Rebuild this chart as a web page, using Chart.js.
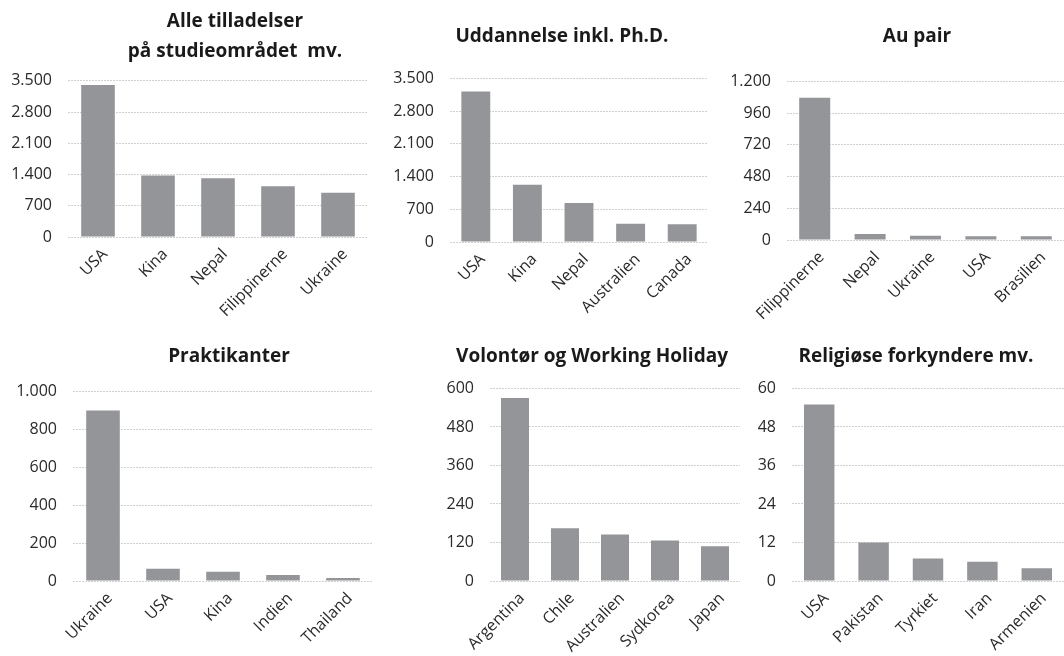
<!DOCTYPE html>
<html>
<head>
<meta charset="utf-8">
<script src="https://cdn.jsdelivr.net/npm/chart.js@4"></script>
<style>
  html, body { margin: 0; padding: 0; background: #fff; overflow: hidden; }
  body { width: 1064px; height: 656px; position: relative; }
  .box { position: absolute; }
</style>
</head>
<body>
<div class="box" id="b1"><canvas id="c1"></canvas></div>
<div class="box" id="b2"><canvas id="c2"></canvas></div>
<div class="box" id="b3"><canvas id="c3"></canvas></div>
<div class="box" id="b4"><canvas id="c4"></canvas></div>
<div class="box" id="b5"><canvas id="c5"></canvas></div>
<div class="box" id="b6"><canvas id="c6"></canvas></div>
<script>
// data
const studieLabels = ['USA', 'Kina', 'Nepal', 'Filippinerne', 'Ukraine'];
const studieValues = [3410, 1380, 1315, 1140, 990];

const uddannelseLabels = ['USA', 'Kina', 'Nepal', 'Australien', 'Canada'];
const uddannelseValues = [3220, 1225, 835, 390, 378];

const auPairLabels = ['Filippinerne', 'Nepal', 'Ukraine', 'USA', 'Brasilien'];
const auPairValues = [1076, 46, 33, 28, 28];

const praktikantLabels = ['Ukraine', 'USA', 'Kina', 'Indien', 'Thailand'];
const praktikantValues = [900, 65, 49, 32, 16];

const volontorLabels = ['Argentina', 'Chile', 'Australien', 'Sydkorea', 'Japan'];
const volontorValues = [570, 164, 145, 126, 108];

const religiosLabels = ['USA', 'Pakistan', 'Tyrkiet', 'Iran', 'Armenien'];
const religiosValues = [55, 12, 7, 6, 4];

const FONT = '"Open Sans", Roboto, sans-serif';
const BAR = '#939598';

function fmt(v) {
  return String(v).replace(/\B(?=(\d{3})+(?!\d))/g, '.');
}

function makeChart(id, o) {
  const box = document.getElementById('b' + id);
  box.style.left = o.left + 'px';
  box.style.top = o.top + 'px';
  box.style.width = o.width + 'px';
  box.style.height = o.height + 'px';

  return new Chart(document.getElementById('c' + id), {
    type: 'bar',
    data: {
      labels: o.labels,
      datasets: [{
        data: o.values,
        backgroundColor: BAR,
        barPercentage: 0.56,
        categoryPercentage: 1
      }]
    },
    options: {
      responsive: true,
      maintainAspectRatio: false,
      animation: false,
      layout: { padding: 0 },
      plugins: {
        legend: { display: false },
        tooltip: { enabled: false },
        title: {
          display: true,
          text: o.title,
          color: '#1a1a1a',
          font: { family: FONT, size: 19, weight: 'bold', lineHeight: 1.55 },
          padding: { top: o.titleTop, bottom: o.titleBottom }
        }
      },
      scales: {
        x: {
          grid: { display: false, drawTicks: false },
          border: { display: false },
          ticks: {
            color: '#2a2a2a',
            font: { family: FONT, size: 16 },
            minRotation: 45,
            maxRotation: 45,
            padding: 8,
            labelOffset: 7,
            autoSkip: false
          },
          afterFit: s => { s.height = o.xHeight; }
        },
        y: {
          min: 0,
          max: o.max,
          grid: { color: '#d0d0d0', drawTicks: false, lineWidth: 1 },
          border: { display: false, dash: [2, 1] },
          ticks: {
            stepSize: o.step,
            color: '#2a2a2a',
            font: { family: FONT, size: 16 },
            padding: 16,
            callback: v => fmt(v)
          },
          afterFit: s => { s.width = o.yWidth; }
        },
        // empty right axis, only keeps space so the title can sit off-centre of the plot
        pad: {
          type: 'linear',
          position: 'right',
          grid: { display: false, drawTicks: false },
          border: { display: false },
          ticks: { display: false },
          afterFit: s => { s.width = o.padRight; }
        }
      }
    }
  });
}

makeChart(1, {
  left: 0, top: 0, width: 470, height: 317, padRight: 102, yWidth: 68, xHeight: 80,
  title: ['Alle tilladelser', 'på studieområdet  mv.'], titleTop: 7, titleBottom: 15,
  labels: studieLabels, values: studieValues, max: 3500, step: 700
});
makeChart(2, {
  left: 385, top: 0, width: 354, height: 322, padRight: 31, yWidth: 65, xHeight: 80,
  title: 'Uddannelse inkl. Ph.D.', titleTop: 22, titleBottom: 27,
  labels: uddannelseLabels, values: uddannelseValues, max: 3500, step: 700
});
makeChart(3, {
  left: 722, top: 0, width: 390, height: 320, padRight: 48, yWidth: 65, xHeight: 80,
  title: 'Au pair', titleTop: 22, titleBottom: 30,
  labels: auPairLabels, values: auPairValues, max: 1200, step: 240
});
makeChart(4, {
  left: 0, top: 330, width: 458, height: 326, padRight: 85, yWidth: 73, xHeight: 75,
  title: 'Praktikanter', titleTop: 12, titleBottom: 20,
  labels: praktikantLabels, values: praktikantValues, max: 1000, step: 200
});
makeChart(5, {
  left: 385, top: 330, width: 414, height: 326, padRight: 59, yWidth: 105, xHeight: 75,
  title: 'Volontør og Working Holiday', titleTop: 12, titleBottom: 17,
  labels: volontorLabels, values: volontorValues, max: 600, step: 120
});
makeChart(6, {
  left: 722, top: 330, width: 388, height: 326, padRight: 46, yWidth: 70, xHeight: 75,
  title: 'Religiøse forkyndere mv.', titleTop: 12, titleBottom: 17,
  labels: religiosLabels, values: religiosValues, max: 60, step: 12
});
</script>
</body>
</html>
